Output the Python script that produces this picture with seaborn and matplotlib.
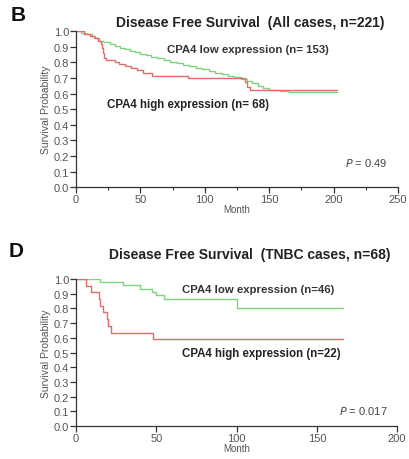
import numpy as np
import pandas as pd
import seaborn as sns
import matplotlib.pyplot as plt
from matplotlib.ticker import MultipleLocator

# panel B: all cases (n=221)
b_low_month = [0, 4, 8, 12, 15, 18, 21, 26, 30, 34, 38, 42, 46, 50, 54, 58, 63, 68, 73, 78,
               83, 88, 93, 98, 103, 108, 113, 118, 123, 128, 133, 137, 141, 145, 150, 158, 165, 203]
b_low_surv = [1.0, 0.99, 0.98, 0.97, 0.955, 0.94, 0.93, 0.915, 0.905, 0.895, 0.885, 0.875, 0.865,
              0.855, 0.845, 0.835, 0.825, 0.815, 0.805, 0.795, 0.785, 0.775, 0.765, 0.755, 0.745,
              0.735, 0.725, 0.715, 0.705, 0.695, 0.68, 0.665, 0.65, 0.635, 0.625, 0.615, 0.61, 0.61]
b_high_month = [0, 6, 11, 14, 17, 19, 20, 21, 22, 23, 30, 33, 38, 43, 47, 52, 59, 87, 131, 133, 135, 203]
b_high_surv = [1.0, 0.985, 0.97, 0.955, 0.94, 0.92, 0.89, 0.86, 0.83, 0.815, 0.80, 0.79, 0.78,
               0.765, 0.75, 0.735, 0.715, 0.70, 0.675, 0.645, 0.62, 0.62]

# panel D: TNBC cases (n=68)
d_low_month = [0, 15, 29, 40, 47, 50, 55, 100, 166]
d_low_surv = [1.0, 0.978, 0.957, 0.935, 0.913, 0.89, 0.865, 0.805, 0.805]
d_high_month = [0, 6, 9, 14, 15, 17, 19, 20, 22, 48, 166]
d_high_surv = [1.0, 0.955, 0.909, 0.864, 0.818, 0.773, 0.727, 0.682, 0.636, 0.59, 0.59]

y_ticks = [round(v * 0.1, 1) for v in range(11)]

sns.set_style('ticks')
plt.rcParams['font.family'] = ['Liberation Sans', 'DejaVu Sans']

red = '#e46a6a'
green = '#7fd37f'
tick_col = '#555555'

fig = plt.figure(figsize=(4.09, 4.6), dpi=100)


def km_panel(ax, low_m, low_s, high_m, high_s, xmax, title, title_pad,
             low_txt, low_xy, high_txt, high_xy, ptxt, p_xy, minor):
    low = pd.DataFrame({'month': low_m, 'surv': low_s})
    high = pd.DataFrame({'month': high_m, 'surv': high_s})
    sns.lineplot(data=low, x='month', y='surv', ax=ax, color=green, lw=1.0,
                 drawstyle='steps-post', estimator=None)
    sns.lineplot(data=high, x='month', y='surv', ax=ax, color=red, lw=1.0,
                 drawstyle='steps-post', estimator=None)
    ax.set_xlim(0, xmax)
    ax.set_ylim(0, 1.0)
    ax.set_yticks(y_ticks)
    ax.set_yticklabels([f'{v:.1f}' for v in y_ticks])
    ax.xaxis.set_major_locator(MultipleLocator(50))
    if minor:
        ax.xaxis.set_minor_locator(MultipleLocator(25))
    ax.tick_params(axis='both', which='major', labelsize=8, labelcolor=tick_col,
                   length=4, width=0.9, color='#333333', pad=1)
    ax.tick_params(axis='x', which='minor', length=2, width=0.8, color='#333333')
    for s in ['left', 'bottom']:
        ax.spines[s].set_color('#333333')
        ax.spines[s].set_linewidth(0.9)
    sns.despine(ax=ax)
    ax.set_xlabel('Month', fontsize=7, color=tick_col, labelpad=0)
    ax.set_ylabel('Survival Probability', fontsize=7.5, color=tick_col, labelpad=2)
    ax.set_title(title, fontsize=10, fontweight='bold', color='#222222', pad=title_pad, x=0.54)
    ax.text(*low_xy, low_txt, fontsize=8.2, fontweight='bold', color='#333333', va='center')
    ax.text(*high_xy, high_txt, fontsize=8.3, fontweight='bold', color='#222222', va='center')
    ax.text(*p_xy, '$P$ = ' + ptxt, transform=ax.transAxes, fontsize=8,
            color='#444444', ha='right', va='center')


ax1 = fig.add_axes([0.186, 0.591, 0.787, 0.339])
km_panel(ax1, b_low_month, b_low_surv, b_high_month, b_high_surv, 250,
         'Disease Free Survival  (All cases, n=221)', 4,
         'CPA4 low expression (n= 153)', (71, 0.885),
         'CPA4 high expression (n= 68)', (24, 0.535), '0.49', (0.966, 0.16), True)

ax2 = fig.add_axes([0.186, 0.072, 0.785, 0.319])
km_panel(ax2, d_low_month, d_low_surv, d_high_month, d_high_surv, 200,
         'Disease Free Survival  (TNBC cases, n=68)', 15,
         'CPA4 low expression (n=46)', (66, 0.93),
         'CPA4 high expression (n=22)', (66, 0.50), '0.017', (0.972, 0.11), False)

fig.text(0.027, 1 - 6 / 460, 'B', fontsize=15, fontweight='bold', color='#111111', va='top')
fig.text(0.020, 1 - 242 / 460, 'D', fontsize=15, fontweight='bold', color='#111111', va='top')

fig.savefig('out.png', dpi=100)
